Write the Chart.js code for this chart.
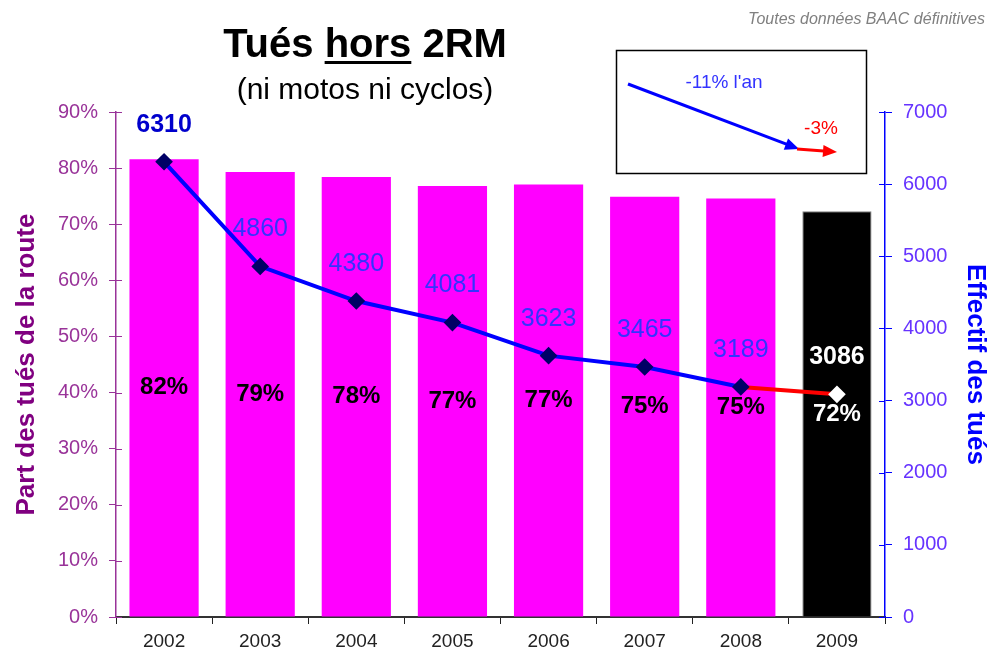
<!DOCTYPE html>
<html>
<head>
<meta charset="utf-8">
<script src="https://cdn.jsdelivr.net/npm/chart.js@4.4.1/dist/chart.umd.min.js"></script>
<style>
  html, body { margin: 0; padding: 0; background: #fff; }
  #wrap { width: 1001px; height: 662px; position: relative; }
</style>
</head>
<body>
<div id="wrap"><canvas id="chart"></canvas></div>
<script>
const FONT = "'Liberation Sans', Arial, sans-serif";

const years = ["2002", "2003", "2004", "2005", "2006", "2007", "2008", "2009"];
const partTues = [81.6, 79.3, 78.4, 76.8, 77.1, 74.9, 74.6, 72.3];     // % des tués de la route
const partLabels = ["82%", "79%", "78%", "77%", "77%", "75%", "75%", "72%"];
const effectif = [6310, 4860, 4380, 4081, 3623, 3465, 3189, 3086];      // tués hors 2RM
const effectifLabels = ["6310", "4860", "4380", "4081", "3623", "3465", "3189", "3086"];

const barColors = years.map((y, i) => i === years.length - 1 ? "#000000" : "#ff00ff");
const pointColors = years.map((y, i) => i === years.length - 1 ? "#ffffff" : "#000066");

// titres, note, encadré tendance
const decorPlugin = {
  id: "decor",
  afterDraw(chart) {
    const ctx = chart.ctx;
    ctx.save();
    // titre
    ctx.fillStyle = "#000";
    ctx.textBaseline = "alphabetic";
    ctx.font = "bold 40px " + FONT;
    const parts = ["Tués ", "hors", " 2RM"];
    const total = parts.reduce((s, p) => s + ctx.measureText(p).width, 0);
    let x = 365 - total / 2;
    parts.forEach((p, i) => {
      ctx.textAlign = "left";
      ctx.fillText(p, x, 57);
      const w = ctx.measureText(p).width;
      if (i === 1) ctx.fillRect(x, 61, w, 3);
      x += w;
    });
    ctx.textAlign = "center";
    ctx.font = "30px " + FONT;
    ctx.fillText("(ni motos ni cyclos)", 365, 99);

    // note
    ctx.font = "italic 16px " + FONT;
    ctx.fillStyle = "#808080";
    ctx.textAlign = "right";
    ctx.fillText("Toutes données BAAC définitives", 985, 24);

    // encadré
    ctx.strokeStyle = "#000";
    ctx.lineWidth = 1.5;
    ctx.strokeRect(616.5, 50.5, 250, 123);
    const arrow = (x1, y1, x2, y2, col) => {
      ctx.strokeStyle = col; ctx.fillStyle = col; ctx.lineWidth = 3;
      const a = Math.atan2(y2 - y1, x2 - x1);
      ctx.beginPath(); ctx.moveTo(x1, y1);
      ctx.lineTo(x2 - 10 * Math.cos(a), y2 - 10 * Math.sin(a)); ctx.stroke();
      ctx.beginPath(); ctx.moveTo(x2, y2);
      ctx.lineTo(x2 - 14 * Math.cos(a) + 6 * Math.sin(a), y2 - 14 * Math.sin(a) - 6 * Math.cos(a));
      ctx.lineTo(x2 - 14 * Math.cos(a) - 6 * Math.sin(a), y2 - 14 * Math.sin(a) + 6 * Math.cos(a));
      ctx.closePath(); ctx.fill();
    };
    arrow(628, 84, 799, 149, "#0000ff");
    arrow(797, 149, 837, 152, "#ff0000");
    ctx.font = "19px " + FONT;
    ctx.textAlign = "center";
    ctx.textBaseline = "middle";
    ctx.fillStyle = "#3333ff";
    ctx.fillText("-11% l'an", 724, 83);
    ctx.fillStyle = "#ff0000";
    ctx.fillText("-3%", 821, 129);
    ctx.restore();
  }
};

// étiquettes de données + graduations qui traversent les axes
const labelsPlugin = {
  id: "labels",
  afterDatasetsDraw(chart) {
    const ctx = chart.ctx;
    ctx.save();
    ctx.textAlign = "center";
    ctx.textBaseline = "middle";
    const bars = chart.getDatasetMeta(0).data;
    bars.forEach((b, i) => {
      ctx.font = "bold 24px " + FONT;
      ctx.fillStyle = i === bars.length - 1 ? "#ffffff" : "#000000";
      ctx.fillText(partLabels[i], b.x, (b.y + b.base) / 2);
    });
    const pts = chart.getDatasetMeta(1).data;
    pts.forEach((p, i) => {
      const last = i === pts.length - 1;
      ctx.font = (i === 0 || last ? "bold " : "") + "25px " + FONT;
      ctx.fillStyle = last ? "#ffffff" : (i === 0 ? "#0000cc" : "#3333ff");
      ctx.fillText(effectifLabels[i], p.x, p.y - 37);
    });

    const yl = chart.scales.y, yr = chart.scales.y1;
    ctx.lineWidth = 1;
    ctx.strokeStyle = "#993399";
    yl.ticks.forEach(t => {
      const py = Math.round(yl.getPixelForValue(t.value)) + 0.5;
      ctx.beginPath(); ctx.moveTo(yl.right, py); ctx.lineTo(yl.right + 6, py); ctx.stroke();
    });
    ctx.strokeStyle = "#0000ff";
    yr.ticks.forEach(t => {
      const py = Math.round(yr.getPixelForValue(t.value)) + 0.5;
      ctx.beginPath(); ctx.moveTo(yr.left - 6, py); ctx.lineTo(yr.left, py); ctx.stroke();
    });
    ctx.restore();
  }
};

const ctx = document.getElementById("chart").getContext("2d");
new Chart(ctx, {
  type: "bar",
  data: {
    labels: years,
    datasets: [
      {
        type: "bar",
        data: partTues,
        yAxisID: "y",
        backgroundColor: barColors,
        borderColor: years.map((y, i) => i === years.length - 1 ? "#808080" : "#ff00ff"),
        borderWidth: years.map((y, i) => i === years.length - 1 ? 1 : 0),
        barPercentage: 0.72,
        categoryPercentage: 1,
        order: 2
      },
      {
        type: "line",
        data: effectif,
        yAxisID: "y1",
        borderColor: "#0000ff",
        borderWidth: 4,
        tension: 0,
        fill: false,
        pointStyle: "rectRot",
        pointRadius: 6,
        pointBackgroundColor: pointColors,
        pointBorderColor: pointColors,
        segment: {
          borderColor: c => c.p1DataIndex === years.length - 1 ? "#ff0000" : "#0000ff"
        },
        order: 1
      }
    ]
  },
  options: {
    responsive: true,
    maintainAspectRatio: false,
    animation: false,
    layout: { padding: { top: 112, left: 0, right: 0, bottom: 0 } },
    plugins: { legend: { display: false }, tooltip: { enabled: false } },
    scales: {
      x: {
        grid: { offset: true, drawOnChartArea: false, tickLength: 7, color: "#222" },
        border: { color: "#333", width: 2 },
        ticks: { color: "#222", font: { family: FONT, size: 19 }, padding: 6 },
        afterFit: s => { s.height = 45; }
      },
      y: {
        position: "left",
        min: 0, max: 90,
        ticks: {
          stepSize: 10,
          color: "#993399",
          font: { family: FONT, size: 20 },
          padding: 11,
          callback: v => v + "%"
        },
        grid: { drawOnChartArea: false, tickLength: 7, color: "#993399" },
        border: { color: "#993399", width: 1.5 },
        title: {
          display: true,
          text: "Part des tués de la route",
          color: "#800080",
          font: { family: FONT, size: 26, weight: "bold" },
          padding: { top: 11, bottom: 0 }
        },
        afterFit: s => { s.width = 116; }
      },
      y1: {
        position: "right",
        min: 0, max: 7000,
        ticks: {
          stepSize: 1000,
          color: "#6633ff",
          font: { family: FONT, size: 20 },
          padding: 11,
          callback: v => String(v)
        },
        grid: { drawOnChartArea: false, tickLength: 7, color: "#0000ff" },
        border: { color: "#0000ff", width: 1.5 },
        title: {
          display: true,
          text: "Effectif des tués",
          color: "#0000ff",
          font: { family: FONT, size: 26, weight: "bold" },
          padding: { top: 10, bottom: 0 }
        },
        afterFit: s => { s.width = 116; }
      }
    }
  },
  plugins: [decorPlugin, labelsPlugin]
});
</script>
</body>
</html>
